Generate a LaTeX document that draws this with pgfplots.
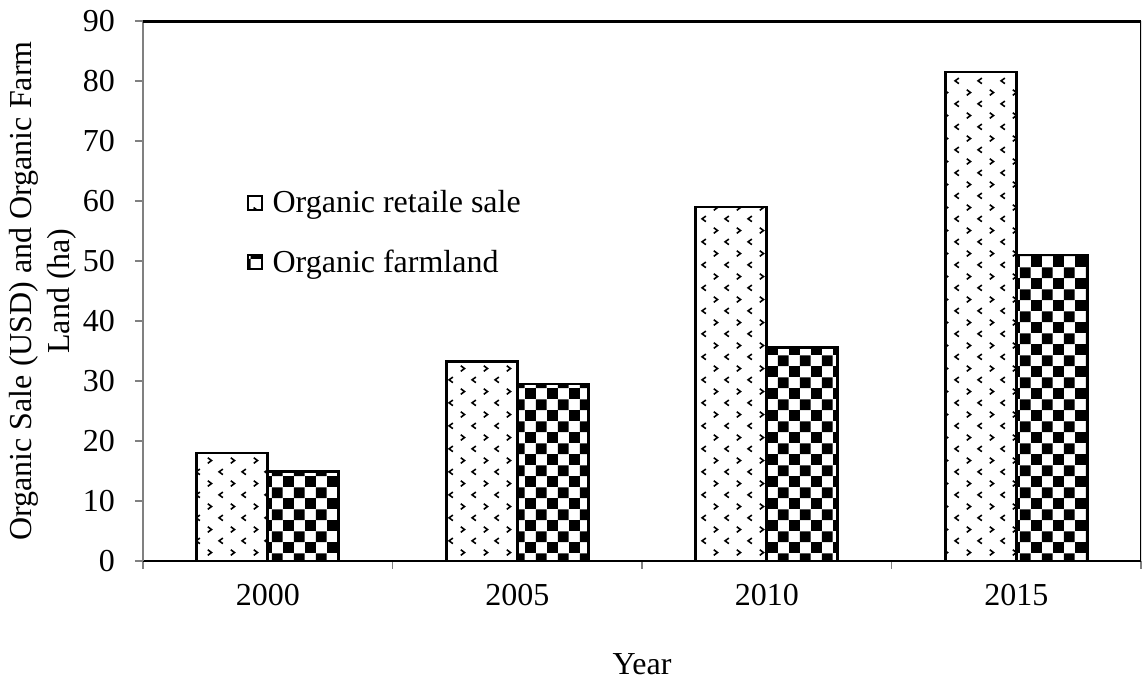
\documentclass[border=0pt]{standalone}
\usepackage{fontspec}
\setmainfont{Liberation Serif}
\usepackage{pgfplots}
\pgfplotsset{compat=1.18}
\usetikzlibrary{patterns}
\pgfdeclarepatternformonly{mychecker}{\pgfpointorigin}{\pgfqpoint{10.9pt}{10.9pt}}{\pgfqpoint{10.9pt}{10.9pt}}{%
  \pgfpathrectangle{\pgfpointorigin}{\pgfqpoint{5.45pt}{5.45pt}}%
  \pgfpathrectangle{\pgfqpoint{5.45pt}{5.45pt}}{\pgfqpoint{5.45pt}{5.45pt}}%
  \pgfusepath{fill}%
}
\pgfdeclarepatternformonly{mychevron}{\pgfpointorigin}{\pgfqpoint{11.4pt}{11.4pt}}{\pgfqpoint{11.4pt}{11.4pt}}{%
  \pgfsetlinewidth{0.8pt}%
  \pgfpathmoveto{\pgfqpoint{1.4pt}{10.2pt}}%
  \pgfpathlineto{\pgfqpoint{3.3pt}{8.8pt}}%
  \pgfpathlineto{\pgfqpoint{1.4pt}{7.4pt}}%
  \pgfpathmoveto{\pgfqpoint{9.0pt}{4.5pt}}%
  \pgfpathlineto{\pgfqpoint{7.1pt}{3.1pt}}%
  \pgfpathlineto{\pgfqpoint{9.0pt}{1.7pt}}%
  \pgfusepath{stroke}%
}
\begin{document}
\begin{tikzpicture}[font=\fontsize{16}{19}\selectfont]
\begin{axis}[
  scale only axis,
  width=499pt, height=270pt,
  ymin=0, ymax=90, ytick={0,10,...,90},
  xmin=-0.5, xmax=3.5,
  xtick={-0.5,0.5,1.5,2.5,3.5},
  x tick label as interval,
  xticklabels={2000,2005,2010,2015},
  axis lines=left,
  axis line style={-},
  x axis line style={black, line width=1pt},
  y axis line style={gray, line width=1.2pt},
  tick style={gray, line width=0.8pt},
  tick align=outside,
  major tick length=4pt,
  x tick label style={yshift=-4pt},
  y tick label style={xshift=-6.5pt},
  /pgf/number format/assume math mode=true,
  ylabel={Organic Sale (USD) and Organic Farm\\Land (ha)},
  ylabel style={align=center, yshift=-3.5pt},
  xlabel={Year},
  xlabel style={yshift=-17pt},
  ybar=0pt,
  bar width=35.5pt,
  legend style={draw=none, fill=none, at={(0.098,0.702)}, anchor=north west,
    row sep=13pt, font=\fontsize{16}{19}\selectfont},
  legend cell align=left,
  legend image code/.code={\draw[#1, line width=1pt] (0pt,-3.5pt) rectangle (7pt,3.5pt); \path (9.5pt,0pt);},
]
\addplot[draw=black, line width=1.4pt, pattern=mychevron, pattern color=black,
  bar shift=-17.75pt] coordinates {(0,18) (1,33.2) (2,59) (3,81.5)};
\addplot[draw=black, line width=1.4pt, pattern=mychecker, pattern color=black,
  bar shift=17.75pt] coordinates {(0,14.9) (1,29.5) (2,35.6) (3,51)};
\legend{Organic retaile sale, Organic farmland}
\draw[black, line width=1.6pt] (rel axis cs:0,1) -- (rel axis cs:1,1);
\draw[black, line width=0.7pt] (rel axis cs:1,1) -- (rel axis cs:1,0);
\coordinate (ll) at (rel axis cs:0,0);
\coordinate (ur) at (rel axis cs:1,1);
\end{axis}
\pgfresetboundingbox
\path ([xshift=-71.5pt,yshift=-61.5pt]ll) rectangle ([xshift=1pt,yshift=10.5pt]ur);
\end{tikzpicture}
\end{document}
